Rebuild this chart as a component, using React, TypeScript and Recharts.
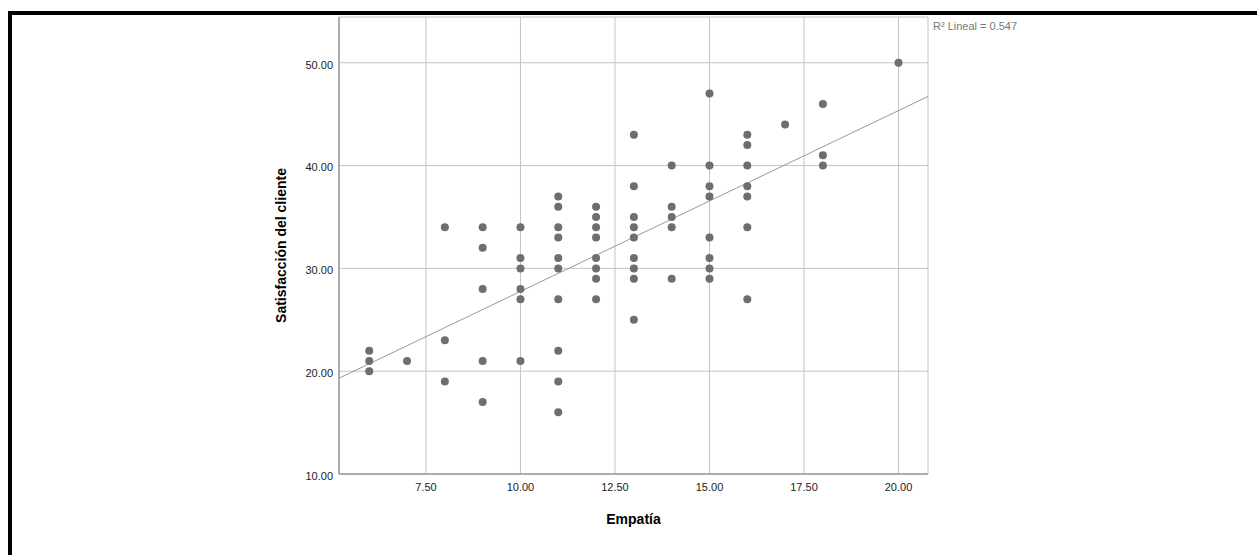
import React from 'react';
import { ScatterChart, Scatter, XAxis, YAxis, CartesianGrid, ReferenceLine } from 'recharts';

// Empatía (x) / Satisfacción del cliente (y), one entry per respondent
const empatia = [
  6, 6, 6,
  7,
  8, 8, 8,
  9, 9, 9, 9, 9,
  10, 10, 10, 10, 10, 10,
  11, 11, 11, 11, 11, 11, 11, 11, 11, 11,
  12, 12, 12, 12, 12, 12, 12, 12,
  13, 13, 13, 13, 13, 13, 13, 13, 13,
  14, 14, 14, 14, 14,
  15, 15, 15, 15, 15, 15, 15, 15,
  16, 16, 16, 16, 16, 16, 16,
  17,
  18, 18, 18,
  20,
];
const satisfaccion = [
  22, 21, 20,
  21,
  34, 23, 19,
  34, 32, 28, 21, 17,
  34, 31, 30, 28, 27, 21,
  37, 36, 34, 33, 31, 30, 27, 22, 19, 16,
  36, 35, 34, 33, 31, 30, 29, 27,
  43, 38, 35, 34, 33, 31, 30, 29, 25,
  40, 36, 35, 34, 29,
  47, 40, 38, 37, 33, 31, 30, 29,
  43, 42, 40, 38, 37, 34, 27,
  44,
  46, 41, 40,
  50,
];

const xTicks = [7.5, 10, 12.5, 15, 17.5, 20];
const yTicks = [10, 20, 30, 40, 50];
const xDomain: [number, number] = [5.2, 20.78];
const yDomain: [number, number] = [10, 54.45];

const points = empatia.map((x, i) => ({ x, y: satisfaccion[i] }));

// least squares fit line
const n = points.length;
const mx = empatia.reduce((s, v) => s + v, 0) / n;
const my = satisfaccion.reduce((s, v) => s + v, 0) / n;
let sxy = 0;
let sxx = 0;
points.forEach(p => {
  sxy += (p.x - mx) * (p.y - my);
  sxx += (p.x - mx) * (p.x - mx);
});
const slope = sxy / sxx;
const intercept = my - slope * mx;
const fitLine = [
  { x: xDomain[0], y: intercept + slope * xDomain[0] },
  { x: xDomain[1], y: intercept + slope * xDomain[1] },
];

const FONT = '"Liberation Sans", Arial, sans-serif';

const Dot = (props: any) => <circle cx={props.cx} cy={props.cy} r={4} fill="#6e6e6e" />;

export default function App() {
  return (
    <div style={{ position: 'absolute', left: 0, top: 0, width: 1257, height: 555, background: '#fff', overflow: 'hidden', fontFamily: FONT }}>
      {/* frame */}
      <div style={{ position: 'absolute', left: 8, top: 11, width: 1260, height: 560, borderTop: '4px solid #000', borderLeft: '4px solid #000' }} />
      <div style={{ position: 'absolute', left: 0, top: 0 }}>
        <ScatterChart width={1257} height={555} margin={{ top: 17, right: 329, left: 224, bottom: 11 }}>
          <CartesianGrid stroke="#c4c4c4" strokeWidth={1} />
          <XAxis
            type="number"
            dataKey="x"
            domain={xDomain}
            ticks={xTicks}
            tickFormatter={(v: number) => v.toFixed(2)}
            tickLine={false}
            tickSize={0}
            tickMargin={9}
            height={70}
            stroke="#9a9a9a"
            strokeWidth={1.5}
            tick={{ fill: '#222', fontSize: 11, fontFamily: FONT }}
            label={{ value: 'Empatía', position: 'insideBottom', offset: 20, fill: '#000', fontSize: 14, fontWeight: 'bold', fontFamily: FONT }}
          />
          <YAxis
            type="number"
            dataKey="y"
            domain={yDomain}
            ticks={yTicks}
            tickFormatter={(v: number) => v.toFixed(2)}
            tickLine={false}
            tickSize={0}
            tickMargin={6}
            width={115}
            stroke="#9a9a9a"
            strokeWidth={1.5}
            tick={{ fill: '#222', fontSize: 11, fontFamily: FONT, dy: 2 }}
            label={{ value: 'Satisfacción del cliente', angle: -90, position: 'center', fill: '#000', fontSize: 14, fontWeight: 'bold', fontFamily: FONT }}
          />
          <ReferenceLine segment={fitLine} stroke="#999" strokeWidth={1} />
          <Scatter data={points} shape={Dot} isAnimationActive={false} />
        </ScatterChart>
      </div>
      <div style={{ position: 'absolute', left: 933, top: 20, fontSize: 11, color: '#777', whiteSpace: 'nowrap' }}>
        R² Lineal = 0.547
      </div>
    </div>
  );
}
